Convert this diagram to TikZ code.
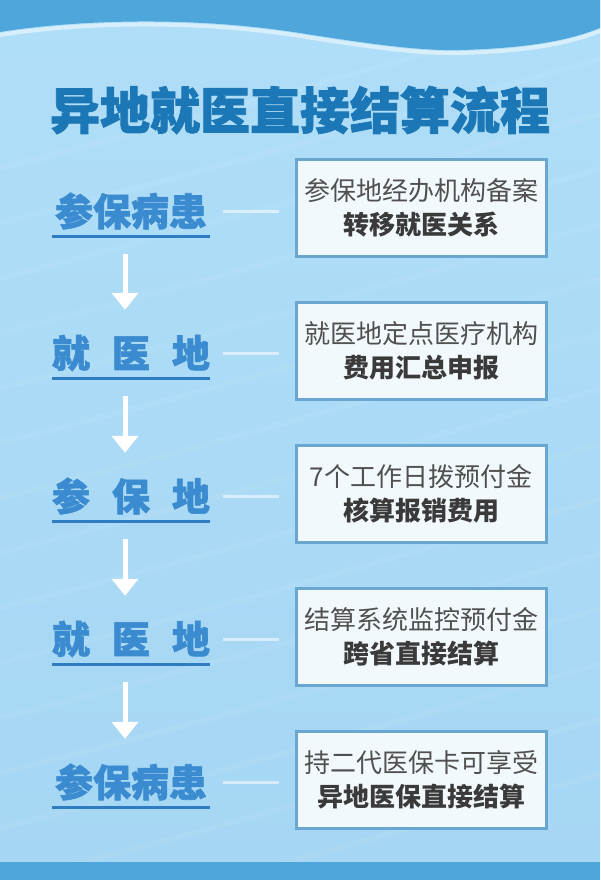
\documentclass[tikz,border=0pt]{standalone}
\usepackage{fontspec}
\newfontfamily\cjk{Noto Sans CJK SC}
\newfontfamily\cjkheavy{Noto Sans CJK SC}[BoldFeatures={FakeBold=1.6}]
\usetikzlibrary{arrows.meta}
\definecolor{topblue}{HTML}{4FA6DA}
\definecolor{bgtop}{HTML}{B0DEF8}
\definecolor{bgbot}{HTML}{A5D6F3}
\definecolor{titleblue}{HTML}{1C77B7}
\definecolor{labelblue}{HTML}{3A8BCF}
\definecolor{ulblue}{HTML}{2E7DC2}
\definecolor{boxborder}{HTML}{6AA7D0}
\definecolor{boxfill}{HTML}{F2F9FD}
\definecolor{txtgrey}{HTML}{505050}
\definecolor{txtdark}{HTML}{3A3A3A}
\tikzset{
  lbl/.style={inner sep=0pt, minimum height=50pt, text width=158pt, align=center,
    font=\cjkheavy\bfseries\fontsize{38}{38}\selectfont, text=labelblue},
  ul/.style={draw=ulblue, line width=3pt},
  stepbox/.style={draw=boxborder, line width=3pt, fill=boxfill, minimum width=250pt,
    minimum height=97pt, inner sep=0pt, align=center, text=txtgrey,
    font=\cjk\fontsize{26}{34}\selectfont},
  link/.style={draw=white, draw opacity=0.55, line width=3pt, shorten <=13pt, shorten >=16pt},
  flow/.style={draw=white, line width=5pt, shorten <=18pt, shorten >=18pt,
    -{Triangle[width=26pt,length=17pt]}}
}
\newcommand{\bline}[1]{{\bfseries\color{txtdark}#1}}
\begin{document}
\begin{tikzpicture}[x=1pt,y=-1pt]
\useasboundingbox (0,0) rectangle (600,880);
% background
\shade[top color=bgtop, bottom color=bgbot] (0,0) rectangle (600,880);
\foreach \k in {0,...,14}{
  \draw[white, opacity=0.06, line width=6pt] (-50,{180+\k*55}) .. controls (200,{120+\k*55}) and (400,{60+\k*55}) .. (650,{-10+\k*55});
}
% top wave
\fill[topblue] (0,0) -- (0,32) .. controls (60,22) and (180,14) .. (300,33)
  .. controls (370,44) and (420,51) .. (460,50) .. controls (530,48) and (570,40) .. (600,28) -- (600,0) -- cycle;
\draw[white, opacity=0.5, line width=4pt] (0,35) .. controls (60,25) and (180,17) .. (300,36)
  .. controls (370,47) and (420,54) .. (460,53) .. controls (530,51) and (570,43) .. (600,31);
% bottom bar
\fill[topblue] (0,862) rectangle (600,880);
% title
\node[font=\cjkheavy\bfseries\fontsize{50}{50}\selectfont, text=titleblue] (title) at (300,110) {异地就医直接结算流程};
% boxes
\node[stepbox] (B1) at (421,208) {参保地经办机构备案\\\bline{转移就医关系}};
\node[stepbox] (B2) at (421,351) {就医地定点医疗机构\\\bline{费用汇总申报}};
\node[stepbox] (B3) at (421,494) {7个工作日拨预付金\\\bline{核算报销费用}};
\node[stepbox] (B4) at (421,637) {结算系统监控预付金\\\bline{跨省直接结算}};
\node[stepbox] (B5) at (421,780) {持二代医保卡可享受\\\bline{异地医保直接结算}};
% labels
\node[lbl] (L1) at (131,211) {参保病患};
\node[lbl] (L2) at (131,353) {\makebox[158pt][s]{就\hfil 医\hfil 地}};
\node[lbl] (L3) at (131,496) {\makebox[158pt][s]{参\hfil 保\hfil 地}};
\node[lbl] (L4) at (131,639) {\makebox[158pt][s]{就\hfil 医\hfil 地}};
\node[lbl] (L5) at (131,782) {参保病患};
\foreach \i in {1,...,5}{
  \draw[ul] (L\i.south west) -- (L\i.south east);
  \draw[link] (L\i.east) -- (B\i.west |- L\i.east);
}
\foreach \i/\j in {1/2,2/3,3/4,4/5}{
  \draw[flow] ([xshift=-6pt]L\i.south) -- ([xshift=-6pt]L\j.north);
}
\end{tikzpicture}
\end{document}
